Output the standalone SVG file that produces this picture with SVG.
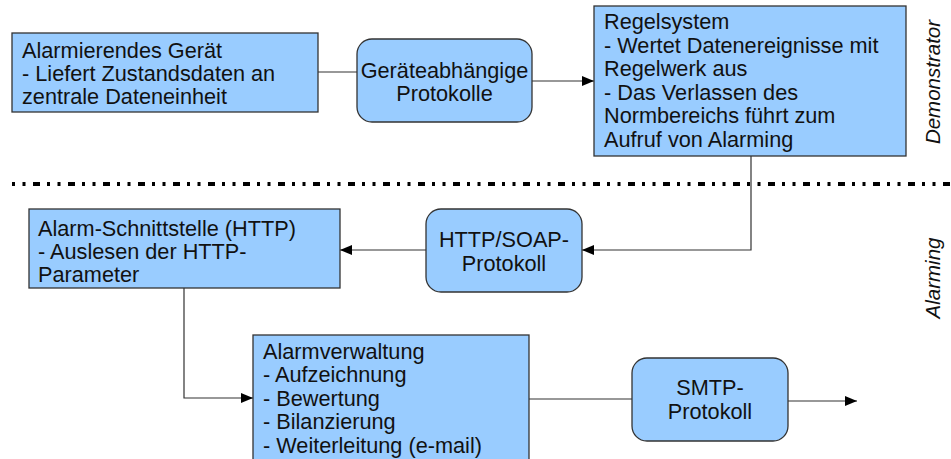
<svg xmlns="http://www.w3.org/2000/svg" width="951" height="459" viewBox="0 0 951 459">
<defs>
<style>
.box{fill:#99ccff;stroke:#333;stroke-width:1.3}
.t{font-family:"Liberation Sans",Arial,sans-serif;font-size:21.7px;fill:#111}
.c{text-anchor:middle}
.lbl{font-family:"Liberation Sans",Arial,sans-serif;font-size:20.5px;font-style:italic;fill:#111;text-anchor:middle}
.con{fill:none;stroke:#333;stroke-width:1.2}
</style>
<marker id="arr" viewBox="0 0 12 10" refX="12" refY="5" markerWidth="12" markerHeight="10" markerUnits="userSpaceOnUse" orient="auto">
<path d="M0,0 L12,5 L0,10 Z" fill="#000"/>
</marker>
</defs>
<rect width="951" height="459" fill="#fff"/>
<line x1="12" y1="184" x2="951" y2="184" stroke="#000" stroke-width="4" stroke-dasharray="3 7.5 3 7.5 7 7"/>
<text class="lbl" transform="translate(940,82) rotate(-90)">Demonstrator</text>
<text class="lbl" transform="translate(940,278) rotate(-90)">Alarming</text>
<g id="connectors">
<path class="con" d="M318,72 H357"/>
<path class="con" d="M532,81 H594" marker-end="url(#arr)"/>
<path class="con" d="M751,156 V250 H582" marker-end="url(#arr)"/>
<path class="con" d="M426,250 H340" marker-end="url(#arr)"/>
<path class="con" d="M184,288 V398 H253" marker-end="url(#arr)"/>
<path class="con" d="M529,399 H633"/>
<path class="con" d="M788,401 H857" marker-end="url(#arr)"/>
</g>
<g id="geraet">
<rect class="box" x="12" y="33" width="306" height="79"/>
<text class="t" x="22" y="58">Alarmierendes Gerät</text>
<text class="t" x="22" y="81">- Liefert Zustandsdaten an</text>
<text class="t" x="22" y="104">zentrale Dateneinheit</text>
</g>
<g id="protokolle">
<rect class="box" x="357" y="39" width="175" height="83" rx="15"/>
<text class="t c" x="444.5" y="78">Geräteabhängige</text>
<text class="t c" x="444.5" y="101">Protokolle</text>
</g>
<g id="regelsystem">
<rect class="box" x="594" y="6" width="312" height="150"/>
<text class="t" x="604" y="29">Regelsystem</text>
<text class="t" x="604" y="53">- Wertet Datenereignisse mit</text>
<text class="t" x="604" y="76">Regelwerk aus</text>
<text class="t" x="604" y="100">- Das Verlassen des</text>
<text class="t" x="604" y="123">Normbereichs führt zum</text>
<text class="t" x="604" y="147">Aufruf von Alarming</text>
</g>
<g id="httpsoap">
<rect class="box" x="426" y="209" width="156" height="83" rx="15"/>
<text class="t c" x="504" y="247">HTTP/SOAP-</text>
<text class="t c" x="504" y="271">Protokoll</text>
</g>
<g id="schnittstelle">
<rect class="box" x="29" y="209" width="311" height="79"/>
<text class="t" x="38" y="236">Alarm-Schnittstelle (HTTP)</text>
<text class="t" x="38" y="259">- Auslesen der HTTP-</text>
<text class="t" x="38" y="282">Parameter</text>
</g>
<g id="alarmverwaltung">
<rect class="box" x="253" y="335" width="276" height="130"/>
<text class="t" x="263" y="359">Alarmverwaltung</text>
<text class="t" x="263" y="382">- Aufzeichnung</text>
<text class="t" x="263" y="406">- Bewertung</text>
<text class="t" x="263" y="429">- Bilanzierung</text>
<text class="t" x="263" y="453">- Weiterleitung (e-mail)</text>
</g>
<g id="smtp">
<rect class="box" x="632" y="358" width="156" height="83" rx="15"/>
<text class="t c" x="710" y="395">SMTP-</text>
<text class="t c" x="710" y="419">Protokoll</text>
</g>
</svg>
